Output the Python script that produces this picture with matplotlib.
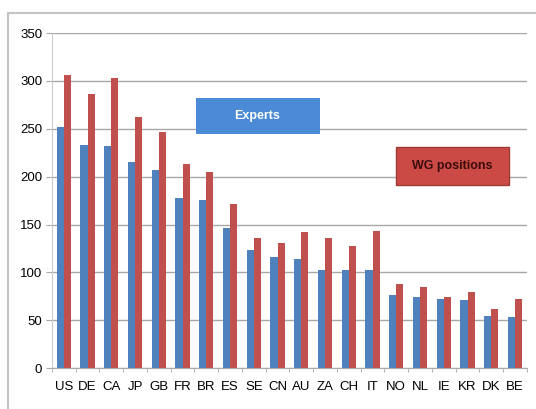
import numpy as np
import matplotlib.pyplot as plt
from matplotlib.lines import Line2D
from matplotlib.patches import Rectangle

countries = ['US', 'DE', 'CA', 'JP', 'GB', 'FR', 'BR', 'ES', 'SE', 'CN',
             'AU', 'ZA', 'CH', 'IT', 'NO', 'NL', 'IE', 'KR', 'DK', 'BE']
experts = [252, 233, 232, 215, 207, 178, 176, 146, 123, 116,
           114, 103, 102, 102, 76, 74, 72, 71, 54, 53]
wg_positions = [306, 286, 303, 262, 247, 213, 205, 171, 136, 131,
                142, 136, 128, 143, 88, 85, 74, 79, 62, 72]
yticks = [0, 50, 100, 150, 200, 250, 300, 350]

plt.rcParams['font.family'] = ['Liberation Sans', 'DejaVu Sans']

fig = plt.figure(figsize=(5.36, 4.09), dpi=100)
# outer frame: only left and top edges show in the picture
fig.lines.append(Line2D([8/536, 8/536], [0, 1 - 13/409], transform=fig.transFigure,
                        color='#c4c4c4', linewidth=1.5))
fig.lines.append(Line2D([8/536, 1], [1 - 13/409, 1 - 13/409], transform=fig.transFigure,
                        color='#c4c4c4', linewidth=1.5))
ax = fig.add_axes([0.097, 0.100, 0.886, 0.819])

x = np.arange(len(countries))
w = 0.3
ax.bar(x - w/2, experts, w, color='#4F81BD', zorder=2)
ax.bar(x + w/2, wg_positions, w, color='#C0504D', zorder=2)

ax.set_xlim(-0.5, len(countries) - 0.5)
ax.set_ylim(0, 350)
ax.set_yticks(yticks)
ax.set_xticks(x)
ax.set_xticklabels(countries)
ax.set_xticks(np.arange(-0.5, len(countries)), minor=True)
ax.tick_params(axis='x', which='major', length=0, pad=9, labelsize=9.5)
ax.tick_params(axis='x', which='minor', length=3, color='#aaaaaa')
ax.tick_params(axis='y', length=4, color='#aaaaaa', labelsize=9.5, pad=3)
ax.yaxis.grid(True, color='#a8a8a8', linewidth=1, zorder=0)
for s in ['top', 'right']:
    ax.spines[s].set_visible(False)
ax.spines['left'].set_color('#cccccc')
ax.spines['bottom'].set_color('#aaaaaa')

fig.patches.append(Rectangle((196/536, 1 - 134/409), 124/536, 36/409,
                             transform=fig.transFigure, facecolor='#4A8AD6',
                             edgecolor='none', zorder=3))
fig.text(257/536, 1 - 116/409, 'Experts', ha='center', va='center',
         color='white', fontsize=9, fontweight='bold', zorder=4)
fig.patches.append(Rectangle((396/536, 1 - 185/409), 113/536, 38/409,
                             transform=fig.transFigure, facecolor='#CC4A45',
                             edgecolor='#9c3a36', zorder=3))
fig.text(452/536, 1 - 166/409, 'WG positions', ha='center', va='center',
         color='#3a0d0d', fontsize=9, fontweight='bold', zorder=4)

fig.savefig('out.png', dpi=100)
